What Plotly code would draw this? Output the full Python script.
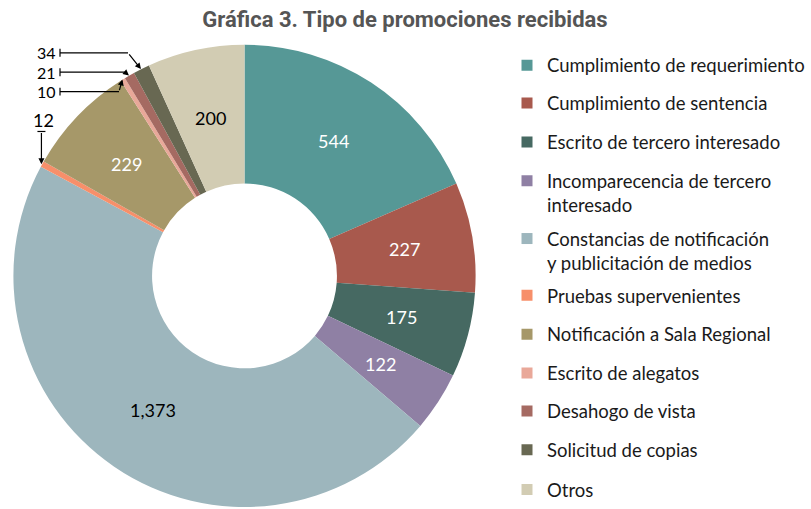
import math
import plotly.graph_objects as go

# ---------------- data ----------------
categories = [
    "Cumplimiento de requerimiento",
    "Cumplimiento de sentencia",
    "Escrito de tercero interesado",
    "Incomparecencia de tercero<br>interesado",
    "Constancias de notificación<br>y publicitación de medios",
    "Pruebas supervenientes",
    "Notificación a Sala Regional",
    "Escrito de alegatos",
    "Desahogo de vista",
    "Solicitud de copias",
    "Otros",
]
values = [544, 227, 175, 122, 1373, 12, 229, 10, 21, 34, 200]

colors = ["#569896", "#A8594D", "#466962", "#8F80A4", "#9DB6BD", "#F78F6A",
          "#A69869", "#E9A899", "#A56A62", "#686852", "#D2CCB3"]
text_colors = ["white", "white", "white", "white", "black", "black",
               "white", "black", "black", "black", "black"]

# ---------------- layout constants ----------------
W, H = 811, 509
CX, CY, R = 244.5, 277.0, 232.0   # pie centre / radius in pixels
HOLE = 0.40
SMALL = 50                         # values below this get callouts
FONT = "Lato, 'Open Sans', sans-serif"
LABEL_SIZE = 18
CALLOUT_SIZE = 16
LEGEND_SIZE = 18.5
LEGEND_X = 507
LINE_GAP = 24
# first-line centre (px from top) of each legend row
legend_rows = [66, 104, 143, 182, 240, 297, 336, 375, 413, 452, 492]

# callout label placement (pixels): label row and elbow x
callouts = {
    9: dict(ty=53, ex=128),
    8: dict(ty=72.5, ex=125),
    7: dict(ty=92, ex=119),
}
vertical_callouts = {5: dict(ty=120, tail=132)}
TICK_X = 60

total = sum(values)

fig = go.Figure()

fig.add_trace(go.Pie(
    labels=categories,
    values=values,
    textinfo="none",
    marker=dict(colors=colors, line=dict(width=0)),
    hole=HOLE,
    sort=False,
    direction="clockwise",
    rotation=0,
    showlegend=False,
    hoverinfo="label+value",
    domain=dict(x=[(CX - R) / W, (CX + R) / W],
                y=[(H - CY - R) / H, (H - CY + R) / H]),
))

# legend entries: one small legend per row so rows can sit exactly
legends = {}
for i, (cat, col) in enumerate(zip(categories, colors)):
    key = "legend" if i == 0 else f"legend{i + 1}"
    fig.add_trace(go.Scatter(
        x=[None], y=[None], mode="markers",
        marker=dict(symbol="square", size=11, color=col),
        name=cat, showlegend=True, legend=key,
    ))
    nlines = cat.count("<br>") + 1
    yc = legend_rows[i] + LINE_GAP * (nlines - 1) / 2
    legends[key] = dict(x=LEGEND_X / W, xanchor="left", y=1 - yc / H, yanchor="middle",
                        valign="top", font=dict(family=FONT, size=LEGEND_SIZE, color="#1a1a1a"),
                        itemsizing="trace", bgcolor="rgba(0,0,0,0)")

# ---------------- labels & callouts ----------------
annotations = []
shapes = []
cum = 0
R_MID = R * (1 + HOLE) / 2
for i, v in enumerate(values):
    th = math.radians((cum + v / 2) / total * 360)
    sx, cy_ = math.sin(th), math.cos(th)
    hx, hy = CX + R * sx, CY - R * cy_
    if v >= SMALL:
        annotations.append(dict(x=CX + R_MID * sx, y=CY - R_MID * cy_, xref="x", yref="y",
                                text=f"{v:,}", showarrow=False, xanchor="center", yanchor="middle",
                                font=dict(family=FONT, size=LABEL_SIZE, color=text_colors[i])))
    if i in callouts:
        c = callouts[i]
        ty, ex = c["ty"], c["ex"]
        annotations.append(dict(x=TICK_X - 3, y=ty, xref="x", yref="y", text=f"{v:,}",
                                showarrow=False, xanchor="right", yanchor="middle",
                                borderpad=0,
                                font=dict(family=FONT, size=CALLOUT_SIZE, color="black")))
        shapes.append(dict(type="line", xref="x", yref="y", x0=TICK_X, x1=ex, y0=ty, y1=ty,
                           line=dict(color="black", width=1.2)))
        shapes.append(dict(type="line", xref="x", yref="y", x0=TICK_X, x1=TICK_X, y0=ty - 4, y1=ty + 4,
                           line=dict(color="black", width=1.2)))
        annotations.append(dict(x=hx, y=hy, xref="x", yref="y", ax=ex, ay=ty, axref="x", ayref="y",
                                text="", showarrow=True, arrowhead=2, arrowsize=1, arrowwidth=1.2,
                                arrowcolor="black", standoff=0))
    if i in vertical_callouts:
        c = vertical_callouts[i]
        annotations.append(dict(x=hx + 2, y=c["ty"], xref="x", yref="y", text=f"{v:,}",
                                showarrow=False, xanchor="center", yanchor="middle",
                                font=dict(family=FONT, size=LABEL_SIZE, color="black")))
        shapes.append(dict(type="line", xref="x", yref="y", x0=hx - 4, x1=hx + 4,
                           y0=c["tail"], y1=c["tail"], line=dict(color="black", width=1.2)))
        annotations.append(dict(x=hx, y=hy, xref="x", yref="y", ax=hx, ay=c["tail"], axref="x", ayref="y",
                                text="", showarrow=True, arrowhead=2, arrowsize=1, arrowwidth=1.2,
                                arrowcolor="black", standoff=0))
    cum += v

fig.update_layout(
    width=W, height=H,
    margin=dict(l=0, r=0, t=0, b=0),
    paper_bgcolor="white", plot_bgcolor="rgba(0,0,0,0)",
    title=dict(text="<b>Gráfica 3. Tipo de promociones recibidas</b>",
               font=dict(family="Roboto, 'Liberation Sans', sans-serif", size=22, color="#555555"),
               x=405 / W, xanchor="center", y=1 - 19 / H, yanchor="middle"),
    xaxis=dict(range=[0, W], visible=False, fixedrange=True),
    yaxis=dict(range=[H, 0], visible=False, fixedrange=True),
    annotations=annotations,
    shapes=shapes,
    showlegend=True,
    **legends,
)

fig.write_html("out.html", config={"displayModeBar": False},
               post_script="document.body.style.margin='0';document.body.style.overflow='hidden';")
